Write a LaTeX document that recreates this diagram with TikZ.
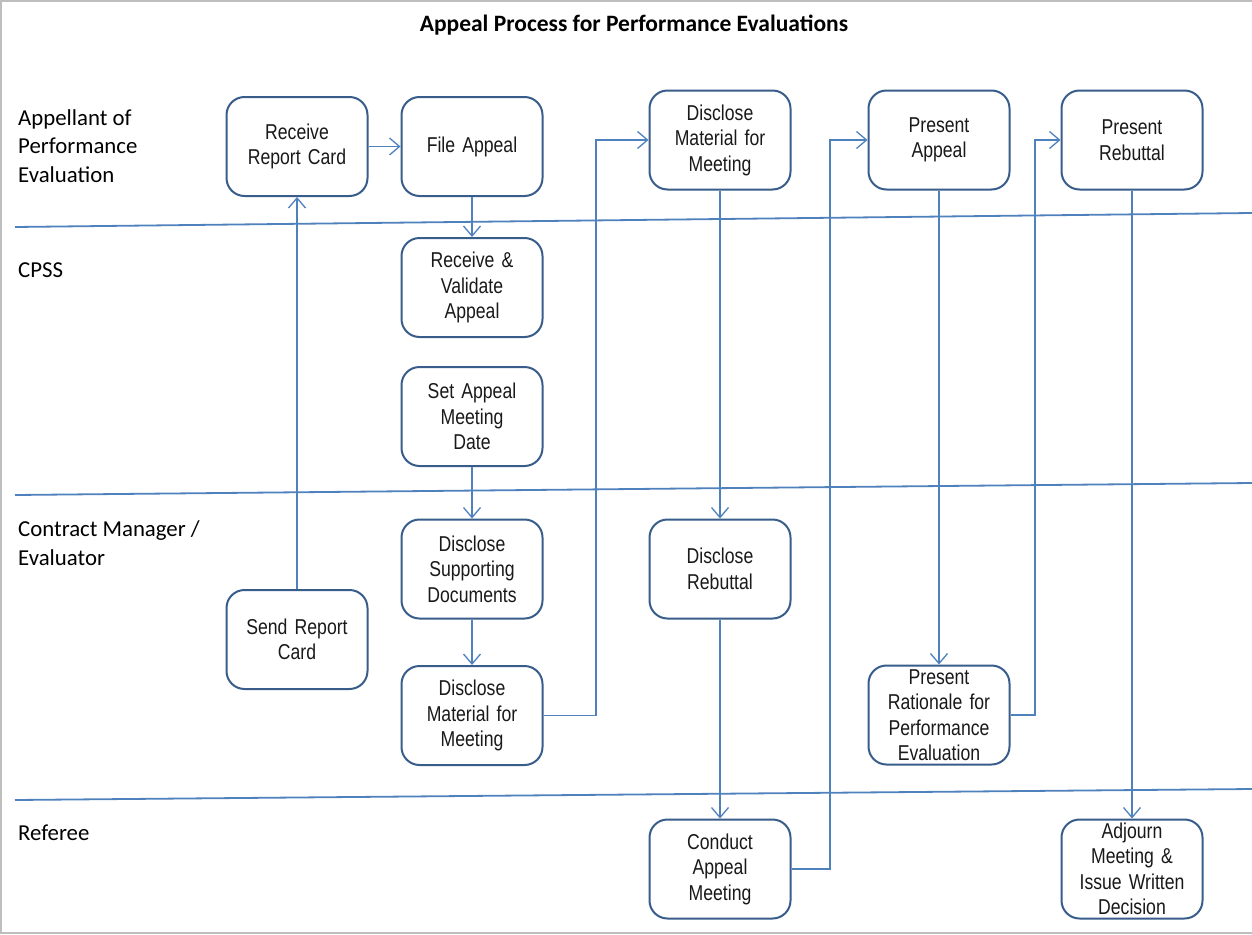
\documentclass[tikz,border=0pt]{standalone}
\usepackage{fontspec}
\setmainfont{Carlito}
\newfontfamily\boxfont[FakeStretch=0.82,WordSpace=0.8]{Liberation Sans}
\usetikzlibrary{arrows.meta}
\definecolor{boxblue}{RGB}{56,93,138}
\definecolor{lineblue}{RGB}{79,129,189}
\definecolor{framegray}{RGB}{190,190,190}
\begin{document}
\begin{tikzpicture}[x=1pt,y=-1pt,
  proc/.style={draw=boxblue, line width=2pt, rounded corners=18pt, minimum width=141pt, minimum height=99pt, align=center, font=\boxfont\fontsize{21.5}{25.5}\selectfont, inner sep=0pt, text width=137pt, text=black!90},
  flow/.style={draw=lineblue, line width=1.3pt, -{Straight Barb[length=10pt,width=17pt,line width=1.3pt]}},
  lane/.style={draw=lineblue, line width=1.8pt},
  lbl/.style={anchor=west, align=left, font=\fontsize{22.8}{28.5}\selectfont, inner sep=0pt}]
\useasboundingbox (0,0) rectangle (1252,934);
\fill[white] (0,0) rectangle (1252,934);
\draw[framegray, line width=2pt] (1252,1) -- (1,1) -- (1,933) -- (1252,933);

\node[font=\bfseries\fontsize{23.5}{28}\selectfont] (title) at (634,25) {Appeal Process for Performance Evaluations};

% lane separators
\coordinate (l1a) at (15,227); \coordinate (l1b) at (1252,213);
\coordinate (l2a) at (15,495); \coordinate (l2b) at (1252,483);
\coordinate (l3a) at (15,800); \coordinate (l3b) at (1252,789);
\draw[lane] (l1a) -- (l1b);
\draw[lane] (l2a) -- (l2b);
\draw[lane] (l3a) -- (l3b);

% lane labels
\node[lbl] (lab1) at (18,146) {Appellant of\\Performance\\Evaluation};
\node[lbl] (lab2) at (18,270) {CPSS};
\node[lbl] (lab3) at (18,543) {Contract Manager /\\Evaluator};
\node[lbl] (lab4) at (18,833) {Referee};

% process boxes
\node[proc] (rrc) at (297,146.5) {Receive\\Report Card};
\node[proc] (fa) at (472,146.5) {File Appeal};
\node[proc] (dmm1) at (720,140) {Disclose\\Material for\\Meeting};
\node[proc] (pa) at (939,140) {Present\\Appeal};
\node[proc] (pr) at (1132,140) {Present\\Rebuttal};
\node[proc] (rva) at (472,287.5) {Receive \&\\Validate\\Appeal};
\node[proc] (samd) at (472,416.5) {Set Appeal\\Meeting\\Date};
\node[proc] (dsd) at (472,569) {Disclose\\Supporting\\Documents};
\node[proc] (src) at (297,639.5) {Send Report\\Card};
\node[proc] (dmm2) at (472,715.5) {Disclose\\Material for\\Meeting};
\node[proc] (dr) at (720,569) {Disclose\\Rebuttal};
\node[proc] (prpe) at (939,715) {Present\\Rationale for\\Performance\\Evaluation};
\node[proc] (cam) at (720,869) {Conduct\\Appeal\\Meeting};
\node[proc] (adj) at (1132,869) {Adjourn\\Meeting \&\\Issue Written\\Decision};

% bend points
\coordinate (j1) at (596,400);
\coordinate (j2) at (830,500);
\coordinate (j3) at (1035,400);

% connectors
\draw[flow] (rrc) -- (fa);
\draw[flow] (fa) -- (rva);
\draw[flow] (samd) -- (dsd);
\draw[flow] (dsd) -- (dmm2);
\draw[flow] (src) -- (rrc);
\draw[flow] (dmm2.east) -| (j1) |- (dmm1.west);
\draw[flow] (dmm1) -- (dr);
\draw[flow] (dr) -- (cam);
\draw[flow] (cam.east) -| (j2) |- (pa.west);
\draw[flow] (pa) -- (prpe);
\draw[flow] (prpe.east) -| (j3) |- (pr.west);
\draw[flow] (pr) -- (adj);
\end{tikzpicture}
\end{document}
